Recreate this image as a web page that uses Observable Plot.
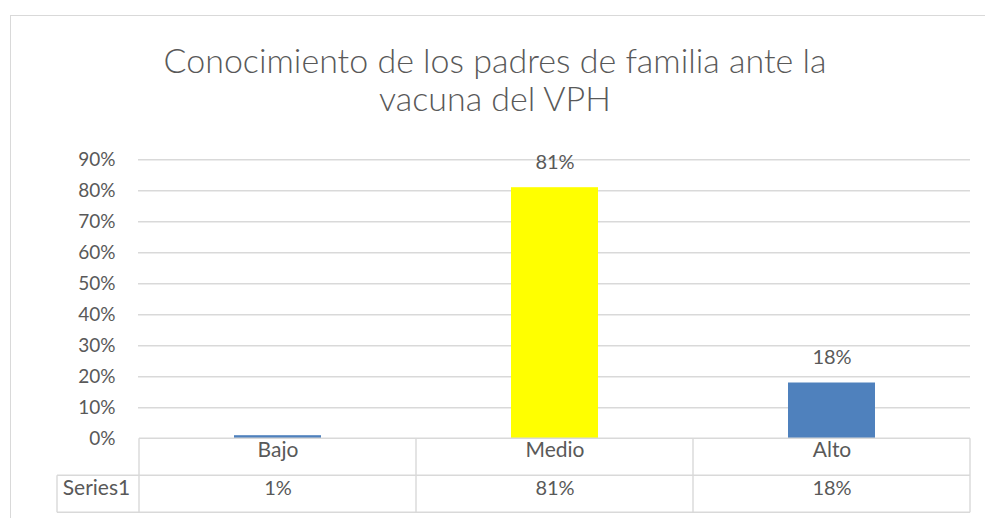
<!DOCTYPE html>
<html>
<head>
<meta charset="utf-8">
<script src="https://cdn.jsdelivr.net/npm/d3@7"></script>
<script src="https://cdn.jsdelivr.net/npm/@observablehq/plot@0.6"></script>
<style>
  body { margin: 0; background: #fff; font-family: Lato, "Open Sans", sans-serif; }
  #wrap { position: relative; width: 985px; height: 518px; overflow: hidden; background: #fff; }
  #frame { position: absolute; left: 10px; top: 15px; width: 1000px; height: 600px; border: 1px solid #d9d9d9; box-sizing: border-box; }
  #title { position: absolute; left: 0; top: 41px; width: 990px; text-align: center; font-size: 34px; font-weight: 300; line-height: 38px; color: #595959; }
  #chart { position: absolute; left: 0; top: 130px; }
</style>
</head>
<body>
<div id="wrap">
  <div id="frame"></div>
  <div id="title">Conocimiento de los padres de familia ante la<br>vacuna del VPH</div>
  <div id="chart"></div>
</div>
<script>
// ---- data ----
const categories = ["Bajo", "Medio", "Alto"];
const values = [0.01, 0.81, 0.18];
const labeled = ["Medio", "Alto"];
const yTicks = [0, 0.1, 0.2, 0.3, 0.4, 0.5, 0.6, 0.7, 0.8, 0.9];
const seriesName = "Series1";

// ---- styles ----
const barColors = ["#4F81BD", "#FFFF00", "#4F81BD"];
const lineColor = "#d9d9d9";
const textColor = "#595959";
const pct = d3.format(".0%");

const data = categories.map((c, i) => ({cat: c, value: values[i]}));

// data table below the plot frame (Excel-style)
function dataTable(index, scales, vals, dim) {
  const {width, height, marginLeft, marginRight, marginBottom} = dim;
  const y0 = height - marginBottom;
  const rowH = 37;
  const x = scales && scales.x;
  let bounds;
  if (x && typeof x === "function") {
    const bw = typeof x.bandwidth === "function" ? x.bandwidth() : x.bandwidth;
    bounds = categories.map(c => x(c));
    bounds.push(x(categories[categories.length - 1]) + bw);
  } else {
    const step = (width - marginLeft - marginRight) / categories.length;
    bounds = d3.range(categories.length + 1).map(i => marginLeft + i * step);
  }
  const left = bounds[0], right = bounds[bounds.length - 1];
  const seriesLeft = left - 82;
  const g = d3.create("svg:g").attr("stroke", lineColor).attr("stroke-width", 1.4).attr("fill", "none");
  const line = (x1, y1, x2, y2) => g.append("line").attr("x1", x1).attr("y1", y1).attr("x2", x2).attr("y2", y2);
  line(left, y0, right, y0);
  line(seriesLeft, y0 + rowH, right, y0 + rowH);
  line(seriesLeft, y0 + 2 * rowH, right, y0 + 2 * rowH);
  bounds.forEach(b => line(b, y0, b, y0 + 2 * rowH));
  line(seriesLeft, y0 + rowH, seriesLeft, y0 + 2 * rowH);
  return g.node();
}

const chart = Plot.plot({
  width: 985,
  height: 388,
  marginLeft: 138,
  marginRight: 15,
  marginTop: 29.3,
  marginBottom: 79.7,
  style: {fontFamily: "Lato, 'Open Sans', sans-serif", fontSize: "19px", color: textColor, background: "transparent", overflow: "visible"},
  x: {domain: categories, padding: 0, axis: null},
  y: {domain: [0, 0.9], axis: null},
  color: {domain: categories, range: barColors},
  marks: [
    Plot.ruleY(yTicks.filter(t => t > 0), {stroke: lineColor, strokeWidth: 1.4}),
    Plot.axisY(yTicks, {tickFormat: pct, tickSize: 0, tickPadding: 23, label: null, fill: textColor}),
    Plot.barY(data, {x: "cat", y: "value", fill: "cat", insetLeft: 95, insetRight: 95}),
    Plot.text(data.filter(d => labeled.includes(d.cat)), {x: "cat", y: "value", text: d => pct(d.value), dy: -25, fontSize: 20, fill: textColor}),
    dataTable,
    Plot.text(data, {x: "cat", text: "cat", frameAnchor: "bottom", dy: 18.5, fontSize: 21, fill: textColor}),
    Plot.text(data, {x: "cat", text: d => pct(d.value), frameAnchor: "bottom", dy: 56.5, fontSize: 20, fill: textColor}),
    Plot.text([seriesName], {text: d => d, frameAnchor: "bottom-left", dx: -42, dy: 56.5, textAnchor: "middle", fontSize: 21, fill: textColor})
  ]
});
document.getElementById("chart").appendChild(chart);
</script>
</body>
</html>
